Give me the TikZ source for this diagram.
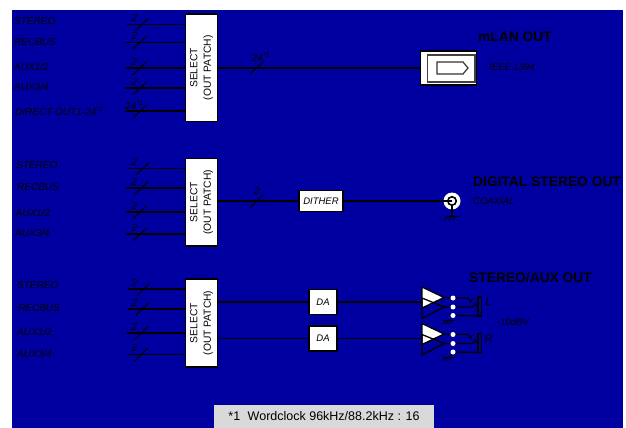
\documentclass[tikz,border=0pt]{standalone}
\usepackage{fontspec}
\setmainfont{Liberation Sans}
\definecolor{deskblue}{RGB}{0,0,160}
\definecolor{notegray}{RGB}{217,217,217}
\tikzset{
    selectbox/.style={draw=black,fill=white,line width=1.2pt,rotate=90,align=center,minimum height=32pt,inner sep=0pt,font=\fontsize{10.3}{13.5}\selectfont},
    smallbox/.style={draw=black,fill=white,line width=1.2pt,inner sep=0pt,font=\fontsize{9.5}{11}\selectfont\itshape},
    sigline/.style={line width=1.5pt},
    tag/.style={inner sep=0pt,font=\fontsize{10}{12}\selectfont\itshape},
    title/.style={inner sep=0pt,anchor=west,font=\fontsize{13.8}{16}\selectfont\bfseries},
    contact/.style={circle,fill=white,inner sep=0pt,minimum size=5pt},
    hatch/.pic={
        \draw[line width=1pt] (-7,0) -- (7,0);
        \foreach \h in {-4,0,4} \draw[line width=0.8pt] (\h,0) -- (\h-3.5,4.5);
    }
}
\begin{document}
\begin{tikzpicture}[x=1pt,y=-1pt]
    \useasboundingbox (0,0) rectangle (626,428);
    \fill[deskblue] (12,10) rectangle (623,428);

    \node[selectbox,minimum width=107.5pt] (selecta) at (201.5,67.75) {SELECT\\(OUT PATCH)};
    \node[selectbox,minimum width=87.5pt] (selectb) at (201.5,202.25) {SELECT\\(OUT PATCH)};
    \node[selectbox,minimum width=88pt] (selectc) at (201.5,323) {SELECT\\(OUT PATCH)};

    % inputs: name/line y/text x/text y/line start/slash x/width label/box/text
    \foreach \n/\y/\tx/\ty/\sx/\cx/\w/\b/\t in {
        a1/24.5/14/21/127/141.5/2/selecta/STEREO,
        a2/42.5/14/42.5/124/139.5/2/selecta/RECBUS,
        a3/68/14/67/125/139.7/2/selecta/AUX1\slash 2,
        a4/88/14/87/125/139.7/2/selecta/AUX3\slash 4,
        a5/111/15/111/125/140/24\textsuperscript{*1}/selecta/DIRECT OUT1-24\textsuperscript{*1},
        b1/168.5/16/165/128/142.5/2/selectb/STEREO,
        b2/188/17/187/126/141/2/selectb/RECBUS,
        b3/212/15.5/212.5/126/140/2/selectb/AUX1\slash 2,
        b4/234/15/233/126/140/2/selectb/AUX3\slash 4,
        c1/289/17/285/128/143.5/2/selectc/STEREO,
        c2/309/18/308/128/142/2/selectc/RECBUS,
        c3/333/17/332/127/141/2/selectc/AUX1\slash 2,
        c4/354.5/17/354/127/141/2/selectc/AUX3\slash 4} {
        \node[tag,anchor=west] (name\n) at (\tx,\ty) {\t};
        \coordinate (in\n) at (\sx,\y);
        \draw[sigline] (in\n) -- (in\n -| \b.north);
        \draw[line width=1.1pt] (\cx-6.5,\y+6.5) -- (\cx+6.5,\y-6);
        \node[tag] (width\n) at (134.5,\y-6) {\w};
    }

    % mLAN output
    \node[draw=black,fill=white,line width=1.2pt,minimum width=56pt,minimum height=34pt,inner sep=0pt] (mlan) at (448.5,68) {};
    \node[draw=black!75,line width=1.2pt,minimum width=47.5pt,minimum height=27pt,inner sep=0pt] (mlanin) at (451.2,68.5) {};
    \draw[black!80,line width=1.2pt] (437,62) -- (463,62) -- (468,68) -- (463,74) -- (437,74) -- cycle;
    \draw[sigline] (selecta.south |- ina3) -- (mlan.west |- ina3);
    \draw[line width=1.1pt] (250,74) -- (263,62);
    \node[tag] (widtha) at (261,57) {24\textsuperscript{*1}};
    \node[title] (mlantitle) at (478,37) {mLAN OUT};
    \node[tag,anchor=west,font=\fontsize{9.5}{11}\selectfont\itshape] (mlantag) at (489,67.5) {IEEE 1394};

    % digital output
    \node[smallbox,minimum width=44pt,minimum height=21pt] (dither) at (321,201) {DITHER};
    \node[circle,fill=white,inner sep=0pt,minimum size=17pt] (jack) at (452,201) {};
    \node[circle,draw=black,line width=1.6pt,inner sep=0pt,minimum size=8.5pt] (jackin) at (452,201) {};
    \coordinate (hatchb) at (452,216);
    \draw[sigline] (selectb.south |- dither.west) -- (dither.west);
    \draw[sigline] (dither.east) -- (jack.center);
    \draw[sigline] (jackin.south) -- (hatchb);
    \pic at (hatchb) {hatch};
    \draw[line width=1.1pt] (250,207.7) -- (263,195);
    \node[tag] (widthb) at (257,191) {2};
    \node[title] (digtitle) at (473,182) {DIGITAL STEREO OUT};
    \node[tag,anchor=west,font=\fontsize{9.5}{11}\selectfont\itshape] (digtag) at (473,201) {COAXIAL};

    % analog outputs
    \foreach \n/\y/\s in {a/302/L,b/338.5/R} {
        \begin{scope}[shift={(0,\y)}]
            \node[smallbox,minimum width=28pt,minimum height=25pt] (da\n) at (323,0) {DA};
            \coordinate (amp\n) at (422,0);
            \draw[sigline] (selectc.south |- da\n.west) -- (da\n.west);
            \draw[sigline] (da\n.east) -- (amp\n);
            \filldraw[fill=white,draw=black,line width=1.3pt] (422,-15) -- (444,-4.5) -- (422,6) -- cycle;
            \draw[line width=1.3pt] (422,-4) -- (444,5) -- (422,16.5) -- cycle;
            \coordinate (hotend\n) at (468,-4);
            \coordinate (coldend\n) at (473,5);
            \draw[line width=1.1pt] (444,-4.5) -- (453,-4) -- (hotend\n) -- (470.5,0) -- (472.5,-4);
            \draw[line width=1.1pt] (444,5) -- (coldend\n) -- (475,1) -- (477,5);
            \draw[line width=1.3pt] (478,-5) rectangle (481.5,14);
            \draw[line width=1.3pt] (453,13.5) -- (481.5,14);
            \draw[line width=1.1pt] (453,13.5) -- (449.5,18.5);
            \node[contact] (hot\n) at (453,-4) {};
            \node[contact] (cold\n) at (453,5) {};
            \node[contact] (gnd\n) at (453,13.5) {};
            \pic[scale=0.8] at (448.5,18.5) {hatch};
            \node[inner sep=0pt,font=\fontsize{11}{13}\selectfont\itshape] (out\n) at (488.5,0) {\s};
        \end{scope}
    }
    \node[title] (auxtitle) at (469,278) {STEREO/AUX OUT};
    \node[tag,anchor=west,font=\fontsize{9.5}{11}\selectfont\itshape] (auxtag) at (497,322) {-10dBV};

    \node[fill=notegray,inner sep=0pt,minimum width=220pt,minimum height=23pt,font=\fontsize{12.5}{14}\selectfont] (note) at (324,416.5) {*1\hspace{0.6em}Wordclock 96kHz/88.2kHz : 16};
\end{tikzpicture}
\end{document}
